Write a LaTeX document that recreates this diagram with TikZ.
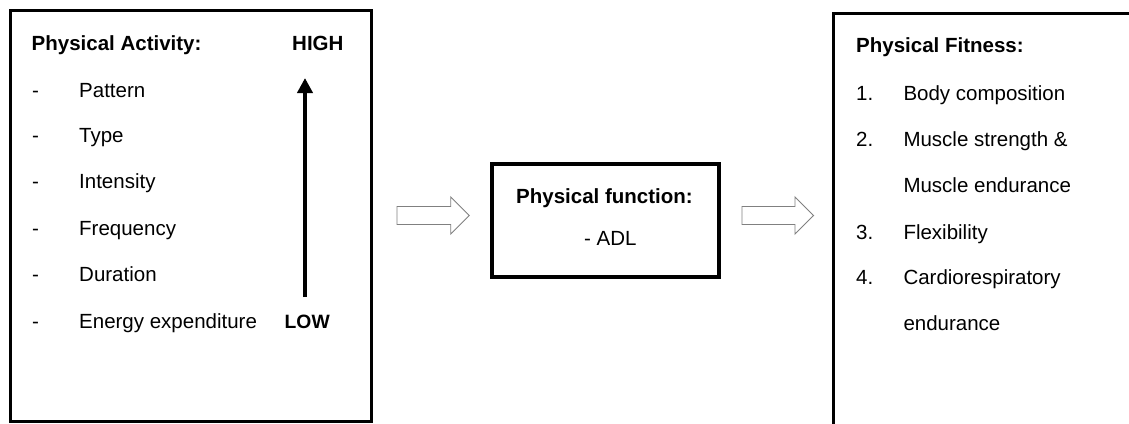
\documentclass[tikz,border=0pt]{standalone}
\usepackage{fontspec}
\setmainfont{Liberation Sans}
\usetikzlibrary{arrows.meta}
\begin{document}
\begin{tikzpicture}[x=1pt,y=-1pt,
  txt/.style={anchor=base west, inner sep=0pt, font=\fontsize{20.5}{24}\selectfont},
  hdr/.style={anchor=base west, inner sep=0pt, font=\fontsize{20.5}{24}\selectfont\bfseries},
  frame/.style={draw=black, line width=3pt, inner sep=0pt, outer sep=0pt, anchor=north west},
  hollow/.style={draw=black!50, line width=0.9pt, fill=white, line join=miter}]
\useasboundingbox (0,0) rectangle (1129,423);
\begin{scope}
\clip (0,0) rectangle (1129,423);
% boxes
\node[frame, minimum width=361pt, minimum height=411pt] (pa) at (10,10) {};
\node[frame, minimum width=227pt, minimum height=113pt, line width=3.4pt] (pf) at (492,164) {};
\node[frame, minimum width=330pt, minimum height=450pt] (fit) at (833,13.5) {};
\end{scope}
% left box texts
\node[hdr] (pah) at (31.5,50.7) {Physical Activity:};
\node[hdr] (high) at (292,50.7) {HIGH};
\node[txt] (d1) at (32,97.3) {-};
\node[txt] (i1) at (79,97.3) {Pattern};
\node[txt] (d2) at (32,142.7) {-};
\node[txt] (i2) at (79,142.7) {Type};
\node[txt] (d3) at (32,188.7) {-};
\node[txt] (i3) at (79,188.7) {Intensity};
\node[txt] (d4) at (32,235) {-};
\node[txt] (i4) at (79,235) {Frequency};
\node[txt] (d5) at (32,281) {-};
\node[txt] (i5) at (79,281) {Duration};
\node[txt] (d6) at (32,328.3) {-};
\node[txt] (i6) at (79,328.3) {Energy expenditure};
\node[hdr, font=\fontsize{19.3}{23}\selectfont\bfseries] (low) at (284.5,328.3) {LOW};
\coordinate (lo) at (305,297);
\coordinate (hi) at (305,78);
\draw[line width=4pt,-{Triangle[width=15pt,length=15pt]}] (lo) -- (hi);
% middle box texts
\node[hdr] (pfh) at (516,203.3) {Physical function:};
\node[txt] (adl) at (584,245) {- ADL};
% right box texts
\node[hdr] (fith) at (856,52.3) {Physical Fitness:};
\node[txt] (n1) at (856,100.7) {1.};
\node[txt] (f1) at (903.3,100.7) {Body composition};
\node[txt] (n2) at (856,146.7) {2.};
\node[txt] (f2) at (903.3,146.7) {Muscle strength \&};
\node[txt] (f2b) at (903.3,192.7) {Muscle endurance};
\node[txt] (n3) at (856,239) {3.};
\node[txt] (f3) at (903.3,239) {Flexibility};
\node[txt] (n4) at (856,284.7) {4.};
\node[txt] (f4) at (903.3,284.7) {Cardiorespiratory};
\node[txt] (f4b) at (903.3,330.7) {endurance};
% hollow block arrows
\coordinate (a1) at (397,215.5);
\coordinate (a2) at (742,215.5);
\draw[hollow] (a1) ++(0,-9) -- ++(53.7,0) -- ++(0,-9.5) -- ++(18.6,18.5) -- ++(-18.6,18.5) -- ++(0,-9.5) -- ++(-53.7,0) -- cycle;
\draw[hollow] (a2) ++(0,-9) -- ++(53,0) -- ++(0,-9.5) -- ++(18.6,18.5) -- ++(-18.6,18.5) -- ++(0,-9.5) -- ++(-53,0) -- cycle;
\end{tikzpicture}
\end{document}
